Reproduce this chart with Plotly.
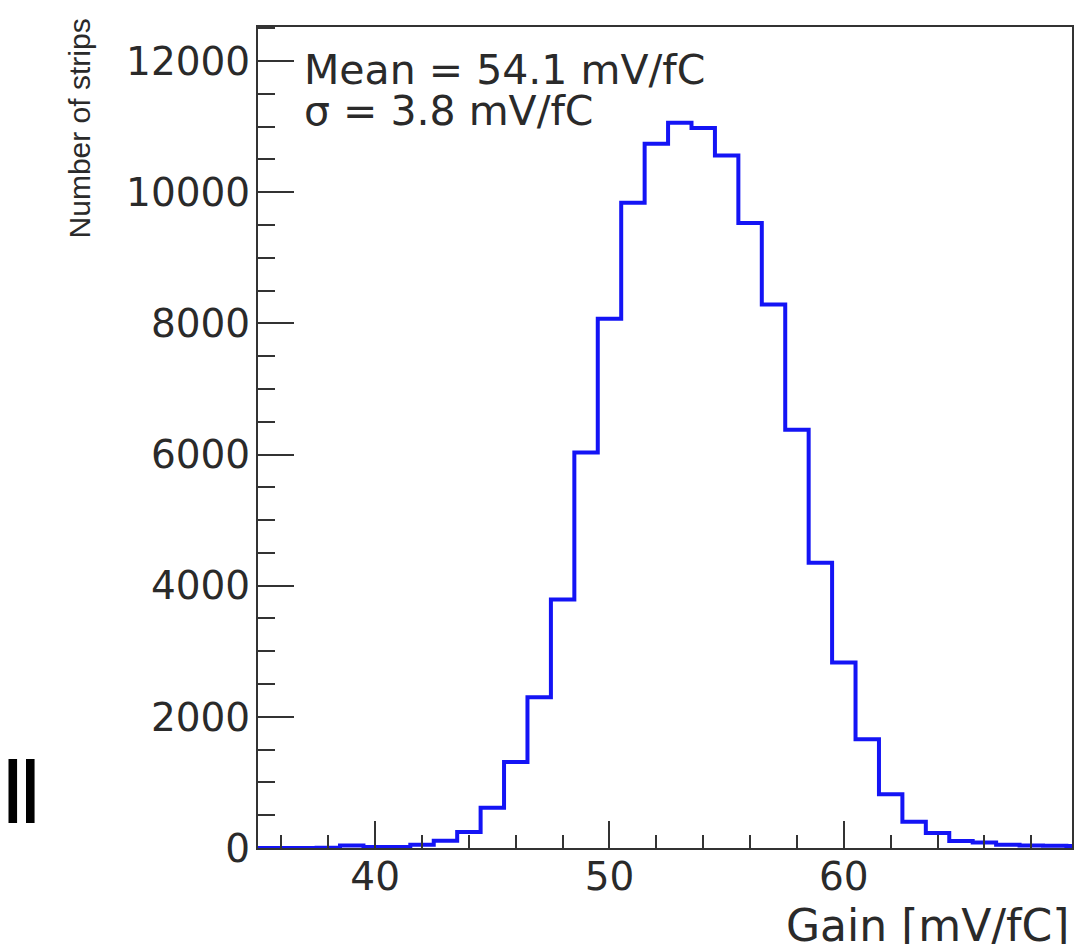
import plotly.graph_objects as go

# Histogram data (bin centres in mV/fC, bin width 1)
bin_centers = list(range(35, 71))
counts = [0, 0, 0, 5, 40, 15, 15, 50, 110, 245, 615, 1310, 2300, 3790, 6030,
          8070, 9840, 10740, 11060, 10980, 10560, 9530, 8290, 6380, 4350,
          2830, 1660, 820, 400, 230, 105, 85, 50, 40, 35, 30]
x_tickvals = [40, 50, 60, 70]
y_tickvals = [0, 2000, 4000, 6000, 8000, 10000, 12000]
stats_lines = ["Mean = 54.1 mV/fC", "σ = 3.8 mV/fC"]
x_title = "Gain [mV/fC]"
y_title = "Number of strips"
side_label = "II"

# step outline from bin edges
edges = [c - 0.5 for c in bin_centers] + [bin_centers[-1] + 0.5]
ys = counts + [counts[-1]]

# the page body has an 8px margin: keep the page exactly 1082x952
OFF = 8
W, H = 1082 - 2 * OFF, 952 - 2 * OFF
L, T = 258 - OFF, 27 - OFF
PW = W - L          # plot reaches the right edge of the figure
PH = 821
B = H - T - PH
PX_PER_UNIT = 23.49
x_max = 35 + PW / PX_PER_UNIT


def px(xp):
    return (xp - OFF - L) / PW


def py(yp):
    return (T + PH - (yp - OFF)) / PH


fig = go.Figure()
fig.add_trace(go.Scatter(x=edges, y=ys, mode="lines", line=dict(color="#1414f5", width=4, shape="hv"),
                         showlegend=False, hoverinfo="skip"))

tickfont = dict(family="DejaVu Sans", size=39, color="#2a2a2a")
axcol = "#333333"
fig.update_layout(
    width=W, height=H,
    margin=dict(l=L, r=0, t=T, b=B),
    paper_bgcolor="white", plot_bgcolor="white",
    xaxis=dict(range=[35, x_max], tickvals=x_tickvals, ticks="inside", ticklen=27, tickwidth=2,
               tickcolor=axcol, showline=True, linecolor=axcol, linewidth=2, mirror=True,
               showgrid=False, zeroline=False, tickfont=tickfont, ticklabelstandoff=-7,
               minor=dict(dtick=2, tick0=0, ticks="inside", ticklen=13, tickwidth=2, tickcolor=axcol,
                          showgrid=False)),
    yaxis=dict(range=[0, 12520], tickvals=y_tickvals, tickformat="d", ticks="inside", ticklen=36,
               tickwidth=2, tickcolor=axcol, showline=True, linecolor=axcol, linewidth=2, mirror=True,
               showgrid=False, zeroline=False, tickfont=tickfont, ticklabelstandoff=-2,
               minor=dict(dtick=500, tick0=0, ticks="inside", ticklen=17, tickwidth=2, tickcolor=axcol,
                          showgrid=False)),
)

fig.add_annotation(text=stats_lines[0], xref="paper", yref="paper", x=px(302), y=py(70),
                   xanchor="left", yanchor="middle", showarrow=False,
                   font=dict(family="DejaVu Sans", size=41, color="#2a2a2a"))
fig.add_annotation(text=stats_lines[1], xref="paper", yref="paper", x=px(302), y=py(111),
                   xanchor="left", yanchor="middle", showarrow=False,
                   font=dict(family="DejaVu Sans", size=41, color="#2a2a2a"))
fig.add_annotation(text=x_title, xref="paper", yref="paper", x=px(1074), y=py(925),
                   xanchor="right", yanchor="middle", showarrow=False,
                   font=dict(family="DejaVu Sans", size=44, color="#2a2a2a"))
fig.add_annotation(text=y_title, xref="paper", yref="paper", x=px(80), y=py(128),
                   xanchor="center", yanchor="middle", textangle=-90, showarrow=False,
                   font=dict(family="Liberation Sans", size=30, color="#2a2a2a"))
fig.add_annotation(text='<span style="letter-spacing:-8px">' + side_label + '</span>',
                   xref="paper", yref="paper", x=px(17), y=py(791),
                   xanchor="center", yanchor="middle", showarrow=False,
                   font=dict(family="Liberation Sans", size=92, color="black"))

fig.write_html("out.html")
